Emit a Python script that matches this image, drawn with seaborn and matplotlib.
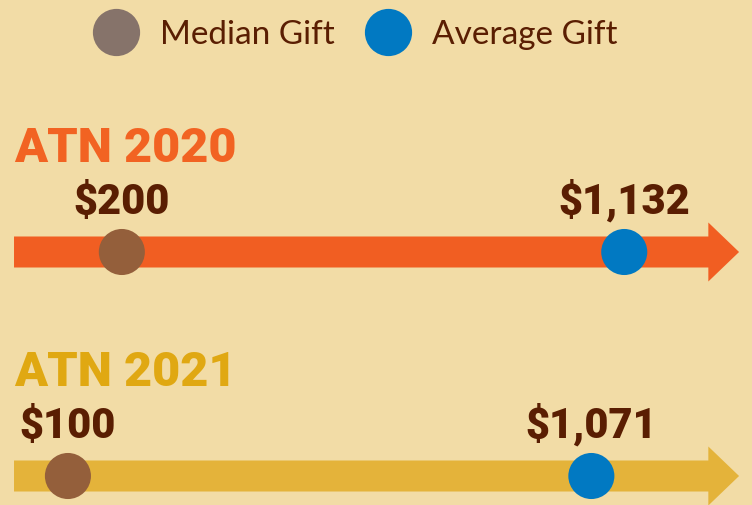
import pandas as pd
import seaborn as sns
import matplotlib.pyplot as plt
from matplotlib.patches import Polygon
from matplotlib.lines import Line2D

# Data
years = ["ATN 2020", "ATN 2021"]
median_gift = [200, 100]
average_gift = [1132, 1071]
kinds = ["Median Gift", "Average Gift"]

# Styling
bg = "#F2DCA6"
text_dark = "#5A1E02"
title_colors = ["#F26322", "#E0A812"]
bar_colors = ["#F15E22", "#E4B33A"]
dot_colors = {"Median Gift": "#945F3B", "Average Gift": "#0179C2"}
legend_colors = ["#86736A", "#0179C2"]
row_y = [252, 476]  # vertical position of each arrow (rows, top = 0)

df = pd.DataFrame({
    "year": years * 2,
    "kind": [kinds[0]] * 2 + [kinds[1]] * 2,
    "value": median_gift + average_gift,
    "y": row_y * 2,
})

sns.set_theme(style="white")
fig = plt.figure(figsize=(7.52, 5.05), dpi=100, facecolor=bg)
ax = fig.add_axes([0, 0, 1, 1])
ax.set_facecolor(bg)
ax.set_xlim(-26, 1369)
ax.set_ylim(505, 0)
ax.axis("off")

# arrows
head_x, tip_x = 1288, 1345
for y, col in zip(row_y, bar_colors):
    pts = [(0, y - 15.5), (head_x, y - 15.5), (head_x, y - 29.5), (tip_x, y),
           (head_x, y + 29.5), (head_x, y + 15.5), (0, y + 15.5)]
    ax.add_patch(Polygon(pts, closed=True, color=col, lw=0, zorder=1))

# dots
sns.scatterplot(data=df, x="value", y="y", hue="kind", palette=dot_colors,
                s=1100, linewidth=0, legend=False, zorder=3, ax=ax)

# year titles and value labels
heavy = ["Roboto", "DejaVu Sans"]
for name, y, col in zip(years, row_y, title_colors):
    ax.text(0, y - 90, name, color=col, fontsize=35, fontweight="black",
            family=heavy, ha="left", va="baseline")
for _, r in df.iterrows():
    ax.text(r["value"], r["y"] - 38, f"${r['value']:,}", color=text_dark,
            fontsize=30, fontweight="black", family=heavy,
            ha="center", va="baseline")

# legend
handles = [Line2D([], [], marker="o", ls="", markersize=34, markeredgewidth=0,
                  color=c) for c in legend_colors]
leg = ax.legend(handles, kinds, ncol=2, loc="center left", frameon=False,
                bbox_to_anchor=(92.7 / 752, 1 - 35 / 505),
                borderpad=0, borderaxespad=0, handlelength=1.4,
                handletextpad=0.62, columnspacing=0.89,
                prop={"family": "Lato", "size": 24})
for t in leg.get_texts():
    t.set_color(text_dark)

fig.savefig("out.png", dpi=100, facecolor=bg)
